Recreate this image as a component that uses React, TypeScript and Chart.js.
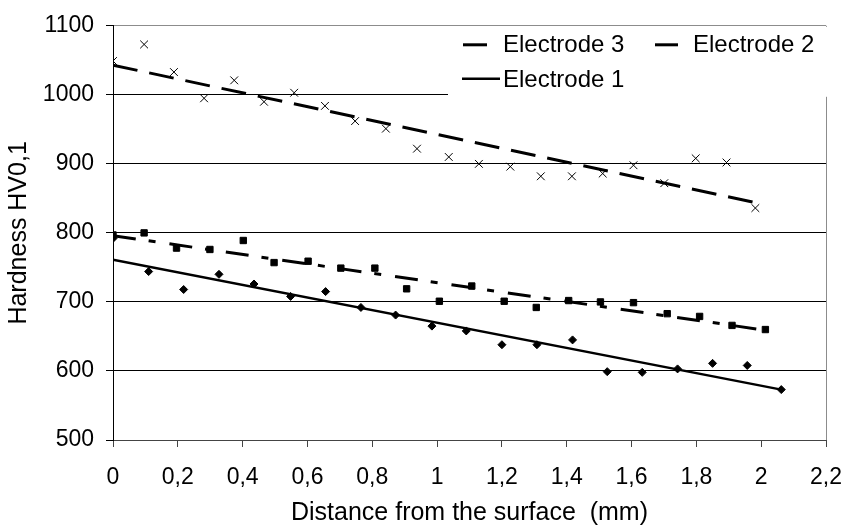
import React, { useEffect, useRef } from 'react';
import { Chart, registerables } from 'chart.js';

Chart.register(...registerables);

// ---- Data ----
const seriesNames = ['Electrode 1', 'Electrode 2', 'Electrode 3'];

const e1X = [0, 0.11, 0.218, 0.327, 0.435, 0.548, 0.656, 0.765, 0.872, 0.984, 1.09, 1.2, 1.308, 1.418, 1.525, 1.633, 1.742, 1.85, 1.957, 2.062];
const e1Y = [792, 744, 718, 740, 726, 708, 715, 692, 681, 665, 658, 638, 638, 645, 599, 598, 603, 611, 608, 573];

const e2X = [0, 0.096, 0.196, 0.299, 0.402, 0.497, 0.602, 0.703, 0.808, 0.906, 1.007, 1.107, 1.207, 1.306, 1.406, 1.504, 1.606, 1.71, 1.81, 1.91, 2.013];
const e2Y = [797, 800, 778, 776, 789, 757, 759, 749, 749, 719, 701, 723, 701, 692, 702, 700, 699, 683, 679, 666, 660];

const e3X = [0, 0.096, 0.188, 0.281, 0.374, 0.466, 0.559, 0.654, 0.747, 0.842, 0.938, 1.036, 1.129, 1.226, 1.32, 1.416, 1.511, 1.606, 1.701, 1.798, 1.893, 1.982];
const e3Y = [1049, 1073, 1033, 995, 1021, 990, 1003, 984, 962, 951, 922, 910, 900, 896, 882, 882, 886, 898, 872, 908, 902, 836];

// linear trend lines (end points)
const e1TrendX = [0, 2.062];
const e1TrendY = [761, 573];
const e2TrendX = [0, 2.013];
const e2TrendY = [796, 659];
const e3TrendX = [0, 1.982];
const e3TrendY = [1043, 844];

const xTickValues = [0, 0.2, 0.4, 0.6, 0.8, 1, 1.2, 1.4, 1.6, 1.8, 2, 2.2];
const xTickLabels = ['0', '0,2', '0,4', '0,6', '0,8', '1', '1,2', '1,4', '1,6', '1,8', '2', '2,2'];
const yTickValues = [500, 600, 700, 800, 900, 1000, 1100];
const yTickLabels = ['500', '600', '700', '800', '900', '1000', '1100'];

const xTitle = 'Distance from the surface  (mm)';
const yTitle = 'Hardness HV0,1';

const FAMILY = '"Liberation Sans", Arial, Helvetica, sans-serif';

const pts = (xs: number[], ys: number[]) => xs.map((x, i) => ({ x, y: ys[i] }));

export default function App() {
  const ref = useRef<HTMLCanvasElement>(null);

  useEffect(() => {
    if (!ref.current) return;

    const dash3 = [25, 12];
    const dash2 = [23, 13, 7, 14];

    const legendPlugin = {
      id: 'customLegend',
      afterDraw(chart: any) {
        const { ctx, chartArea } = chart;
        const left = chartArea.left + 335;
        const top = chartArea.top + 1;
        ctx.save();
        ctx.fillStyle = '#ffffff';
        ctx.fillRect(left, top, chart.width - left, 70);
        ctx.strokeStyle = '#000';
        ctx.lineCap = 'butt';
        ctx.setLineDash([]);
        const r1 = top + 18;
        const r2 = top + 52;
        ctx.lineWidth = 3;
        ctx.beginPath();
        ctx.moveTo(left + 15, r1);
        ctx.lineTo(left + 39, r1);
        ctx.stroke();
        ctx.beginPath();
        ctx.moveTo(left + 207, r1);
        ctx.lineTo(left + 230, r1);
        ctx.stroke();
        ctx.lineWidth = 2.5;
        ctx.beginPath();
        ctx.moveTo(left + 14, r2);
        ctx.lineTo(left + 52, r2);
        ctx.stroke();
        ctx.fillStyle = '#000';
        ctx.font = `24px ${FAMILY}`;
        ctx.textBaseline = 'middle';
        ctx.textAlign = 'left';
        ctx.fillText(seriesNames[2], left + 55, r1 + 1);
        ctx.fillText(seriesNames[1], left + 245, r1 + 1);
        ctx.fillText(seriesNames[0], left + 55, r2 + 2);
        ctx.restore();
      },
    };

    const chart = new Chart(ref.current, {
      type: 'scatter',
      data: {
        datasets: [
          {
            label: seriesNames[2] + ' data',
            data: pts(e3X, e3Y),
            showLine: false,
            pointStyle: 'crossRot',
            pointRadius: 5.5,
            pointBorderWidth: 1,
            borderColor: '#000',
            backgroundColor: '#000',
          },
          {
            label: seriesNames[1] + ' data',
            data: pts(e2X, e2Y),
            showLine: false,
            pointStyle: 'rect',
            pointRadius: 4.5,
            pointBorderWidth: 1,
            borderColor: '#000',
            backgroundColor: '#000',
          },
          {
            label: seriesNames[0] + ' data',
            data: pts(e1X, e1Y),
            showLine: false,
            pointStyle: 'rectRot',
            pointRadius: 4,
            pointBorderWidth: 1,
            borderColor: '#000',
            backgroundColor: '#000',
          },
          {
            label: seriesNames[2],
            data: pts(e3TrendX, e3TrendY),
            showLine: true,
            pointRadius: 0,
            borderColor: '#000',
            borderWidth: 3,
            borderDash: dash3,
            borderCapStyle: 'butt',
          },
          {
            label: seriesNames[1],
            data: pts(e2TrendX, e2TrendY),
            showLine: true,
            pointRadius: 0,
            borderColor: '#000',
            borderWidth: 3,
            borderDash: dash2,
            borderCapStyle: 'butt',
          },
          {
            label: seriesNames[0],
            data: pts(e1TrendX, e1TrendY),
            showLine: true,
            pointRadius: 0,
            borderColor: '#000',
            borderWidth: 2.5,
          },
        ],
      },
      options: {
        animation: false,
        responsive: false,
        devicePixelRatio: 1,
        layout: { padding: { left: 0, top: 21, right: 19, bottom: 0 } },
        plugins: {
          legend: { display: false },
          tooltip: { enabled: false },
        },
        scales: {
          x: {
            type: 'linear',
            min: 0,
            max: 2.2,
            afterBuildTicks: (s: any) => {
              s.ticks = xTickValues.map((v) => ({ value: v }));
            },
            afterFit: (s: any) => {
              s.height = 86;
              s.paddingLeft = 0;
              s.paddingRight = 0;
            },
            ticks: {
              autoSkip: false,
              maxRotation: 0,
              minRotation: 0,
              padding: 17,
              color: '#000',
              font: { family: FAMILY, size: 23 },
              callback: (_v: any, i: number) => xTickLabels[i],
            },
            grid: {
              drawOnChartArea: true,
              drawTicks: true,
              tickLength: 7,
              lineWidth: 1,
              color: (c: any) => (c.tick && c.tick.value > 2.19 ? '#8c8c8c' : 'rgba(0,0,0,0)'),
              tickColor: '#444',
            },
            border: { display: true, color: '#444', width: 1 },
            title: {
              display: true,
              text: xTitle,
              color: '#000',
              font: { family: FAMILY, size: 25, lineHeight: 1 },
              padding: { top: 0, bottom: 0 },
            },
          },
          y: {
            type: 'linear',
            min: 500,
            max: 1100,
            afterBuildTicks: (s: any) => {
              s.ticks = yTickValues.map((v) => ({ value: v }));
            },
            afterFit: (s: any) => {
              s.width = 113;
            },
            ticks: {
              padding: 12,
              color: '#000',
              font: { family: FAMILY, size: 23 },
              callback: (_v: any, i: number) => yTickLabels[i],
            },
            grid: {
              drawTicks: true,
              tickLength: 7,
              lineWidth: 1,
              color: (c: any) =>
                c.tick && c.tick.value >= 1100
                  ? '#8c8c8c'
                  : c.tick && c.tick.value <= 500
                  ? 'rgba(0,0,0,0)'
                  : '#000',
              tickColor: '#000',
            },
            border: { display: true, color: '#000', width: 1 },
            title: {
              display: true,
              text: yTitle,
              color: '#000',
              font: { family: FAMILY, size: 25, lineHeight: 1 },
              padding: { top: 7, bottom: 0 },
            },
          },
        },
      },
      plugins: [legendPlugin],
    } as any);

    return () => chart.destroy();
  }, []);

  return (
    <div style={{ position: 'fixed', left: 0, top: 0, width: 845, height: 526, background: '#fff' }}>
      <canvas ref={ref} width={845} height={526} style={{ width: 845, height: 526, display: 'block' }} />
    </div>
  );
}
